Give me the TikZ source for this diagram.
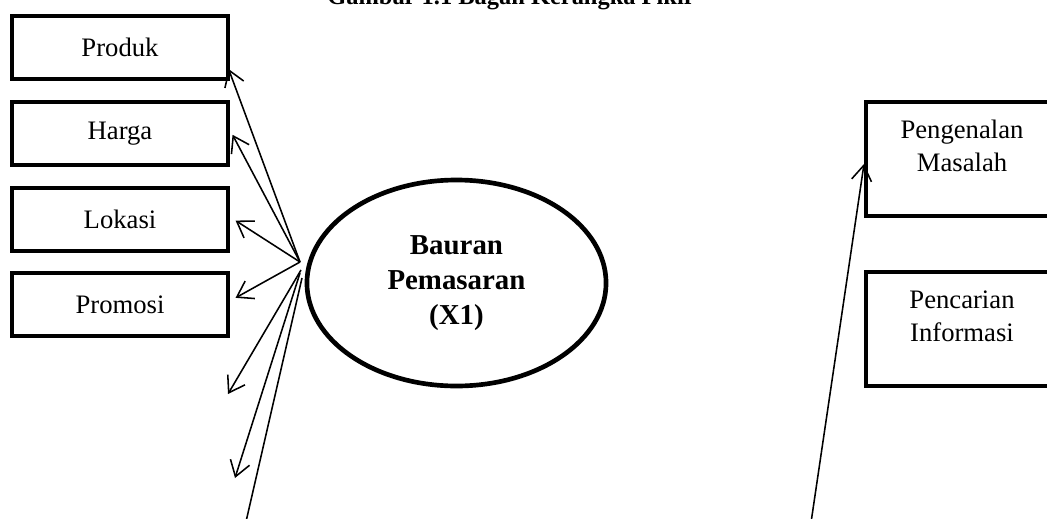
\documentclass[tikz,border=0pt]{standalone}
\usepackage{fontspec}
\setmainfont{Liberation Serif}
\usepackage{tikz}
\usetikzlibrary{positioning,shapes,arrows.meta}

\begin{document}
\begin{tikzpicture}[x=0.45pt, y=-0.45pt, node distance=38.6pt, >={Straight Barb[length=6.8pt,width=9pt]},
                    lbox/.style={draw, rectangle, line width=1.8pt, minimum width=96.8pt, minimum height=28.4pt, inner sep=0pt, font=\fontsize{12}{14.5}\selectfont},
                    rbox/.style={draw, rectangle, line width=1.8pt, minimum width=86.4pt, minimum height=51.3pt, inner sep=0pt},
                    rtext/.style={align=center, inner sep=0pt, font=\fontsize{12}{14.85}\selectfont},
                    link/.style={line width=0.7pt}]
                    \useasboundingbox (0,0) rectangle (1047,518);
                    \node[anchor=base, font=\fontsize{11}{13}\selectfont\bfseries] (judul) at (511,4.5) {Gambar 1.1 Bagan Kerangka Pikir};

                    \node[lbox] (produk) at (120,47.5) {Produk};
                    \node[lbox, below of=produk] (harga) {Harga};
                    \node[lbox, below of=harga] (lokasi) {Lokasi};
                    \node[lbox, below of=lokasi] (promosi) {Promosi};

                    \node[draw, ellipse, line width=2.1pt, minimum width=134.6pt, minimum height=92.7pt, inner sep=0pt, align=center, font=\fontsize{13}{15.75}\selectfont\bfseries] (bauran) at (456.5,283) {Bauran\\Pemasaran\\(X1)};

                    \node[rbox] (masalah) at (962,159) {};
                    \node[rtext, below=9pt of masalah.north] (masalahtxt) {Pengenalan\\Masalah};
                    \node[rbox] (informasi) at (962,329) {};
                    \node[rtext, below=9pt of informasi.north] (informasitxt) {Pencarian\\Informasi};

                    % titik lepas
                    \coordinate (fan) at (300,262);
                    \coordinate (fanb) at (301,270);
                    \coordinate (fanc) at (300,273);
                    \coordinate (fand) at (302,278);
                    \coordinate (ujunga) at (228,394);
                    \coordinate (ujungb) at (235,478);
                    \coordinate (bawahkiri) at (245,526);
                    \coordinate (bawahkanan) at (810.5,526);

                    \draw[->, link] (fan) -- ([shift={(-1,21.5)}]produk.east);
                    \draw[->, link] (fan) -- ([shift={(3,1.5)}]harga.east);
                    \draw[->, link] (fan) -- ([shift={(6,1.5)}]lokasi.east);
                    \draw[->, link] (fan) -- ([shift={(6,-7)}]promosi.east);
                    \draw[->, link] (fanb) -- (ujunga);
                    \draw[->, link] (fanc) -- (ujungb);
                    \draw[link] (fand) -- (bawahkiri);
                    \draw[->, link] (bawahkanan) -- ([shift={(0,5)}]masalah.west);
                \end{tikzpicture}
\end{document}
